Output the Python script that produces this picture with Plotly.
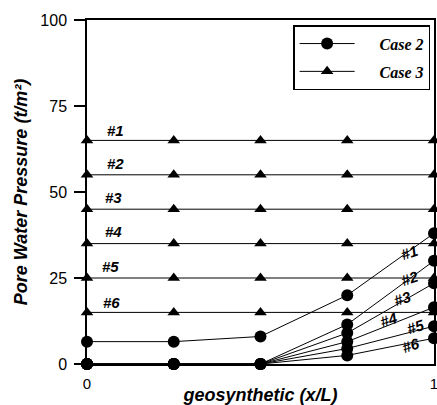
import plotly.graph_objects as go

# ---- data ----
x_pos = [0, 0.25, 0.5, 0.75, 1]
case3_levels = [65, 55, 45, 35, 25, 15]
case2_series = [
    [6.5, 6.5, 8, 20, 38],
    [0, 0, 0, 11.5, 30],
    [0, 0, 0, 9, 23.5],
    [0, 0, 0, 6.5, 16.5],
    [0, 0, 0, 4.5, 11],
    [0, 0, 0, 2.5, 7.5],
]
series_names = ["Case 2", "Case 3"]
line_labels = ["#1", "#2", "#3", "#4", "#5", "#6"]
left_label_x = [0.081, 0.081, 0.075, 0.075, 0.068, 0.072]
left_label_y = [68, 58.3, 48.3, 38.4, 28.2, 18]
right_label_x = [0.928, 0.928, 0.908, 0.87, 0.948, 0.931]
right_label_y = [32.3, 25, 18.9, 13, 10.8, 5.5]
y_ticks = [0, 25, 50, 75, 100]
x_ticks = [0, 1]
x_title = "geosynthetic (x/L)"
y_title = "Pore Water Pressure (t/m²)"

fig = go.Figure()

pad = "\u00a0" * 5
for i, s in enumerate(case2_series):
    fig.add_trace(go.Scatter(
        x=x_pos, y=s, mode="lines+markers", name=pad + series_names[0],
        legendgroup="c2", showlegend=(i == 0),
        line=dict(color="black", width=1),
        marker=dict(symbol="circle", size=12, color="black"),
        cliponaxis=False,
    ))

for i, lv in enumerate(case3_levels):
    fig.add_trace(go.Scatter(
        x=x_pos, y=[lv] * len(x_pos), mode="lines+markers", name=pad + series_names[1],
        legendgroup="c3", showlegend=(i == 0),
        line=dict(color="black", width=1),
        marker=dict(symbol="triangle-up", size=11, color="black"),
        cliponaxis=False,
    ))

lab_font = dict(family="Liberation Sans, Arial", size=15, color="black",
                weight="bold", style="italic")
for t, lx, ly in zip(line_labels, left_label_x, left_label_y):
    fig.add_annotation(x=lx, y=ly, text=t, showarrow=False,
                       font=lab_font, xanchor="center", yanchor="middle")
for t, lx, ly in zip(line_labels, right_label_x, right_label_y):
    fig.add_annotation(x=lx, y=ly, text=t, showarrow=False,
                       font=lab_font, xanchor="center", yanchor="middle", textangle=-18)

fig.update_layout(
    width=437, height=405,
    margin=dict(l=87, r=3, t=20, b=41, autoexpand=False),
    plot_bgcolor="white", paper_bgcolor="white",
    font=dict(family="Liberation Sans, Arial", color="black"),
    legend=dict(
        x=0.594, y=0.985, xanchor="left", yanchor="top",
        bordercolor="black", borderwidth=1.5, bgcolor="white",
        font=dict(family="Liberation Serif, Times New Roman", size=16, color="black",
                  weight="bold", style="italic"),
        itemwidth=55, tracegroupgap=4, traceorder="grouped",
    ),
    xaxis=dict(
        range=[0, 1], tickvals=x_ticks, ticks="", showgrid=False, zeroline=False,
        showline=True, mirror=True, linecolor="black", linewidth=1.5,
        tickfont=dict(size=15), ticklabelstandoff=5, ticklabeloverflow="allow",
        title=dict(text=x_title, font=dict(size=18, weight="bold", style="italic"), standoff=0),
    ),
    yaxis=dict(
        range=[0, 100], tickvals=y_ticks, ticks="outside", ticklen=11, tickwidth=1.5,
        tickcolor="black", showgrid=False, zeroline=False,
        showline=True, mirror=True, linecolor="black", linewidth=1.5,
        tickfont=dict(size=16), ticklabelstandoff=4, ticklabeloverflow="allow",
        title=dict(text=y_title, font=dict(size=18, weight="bold", style="italic"), standoff=8),
    ),
)

fig.write_html("out.html")
